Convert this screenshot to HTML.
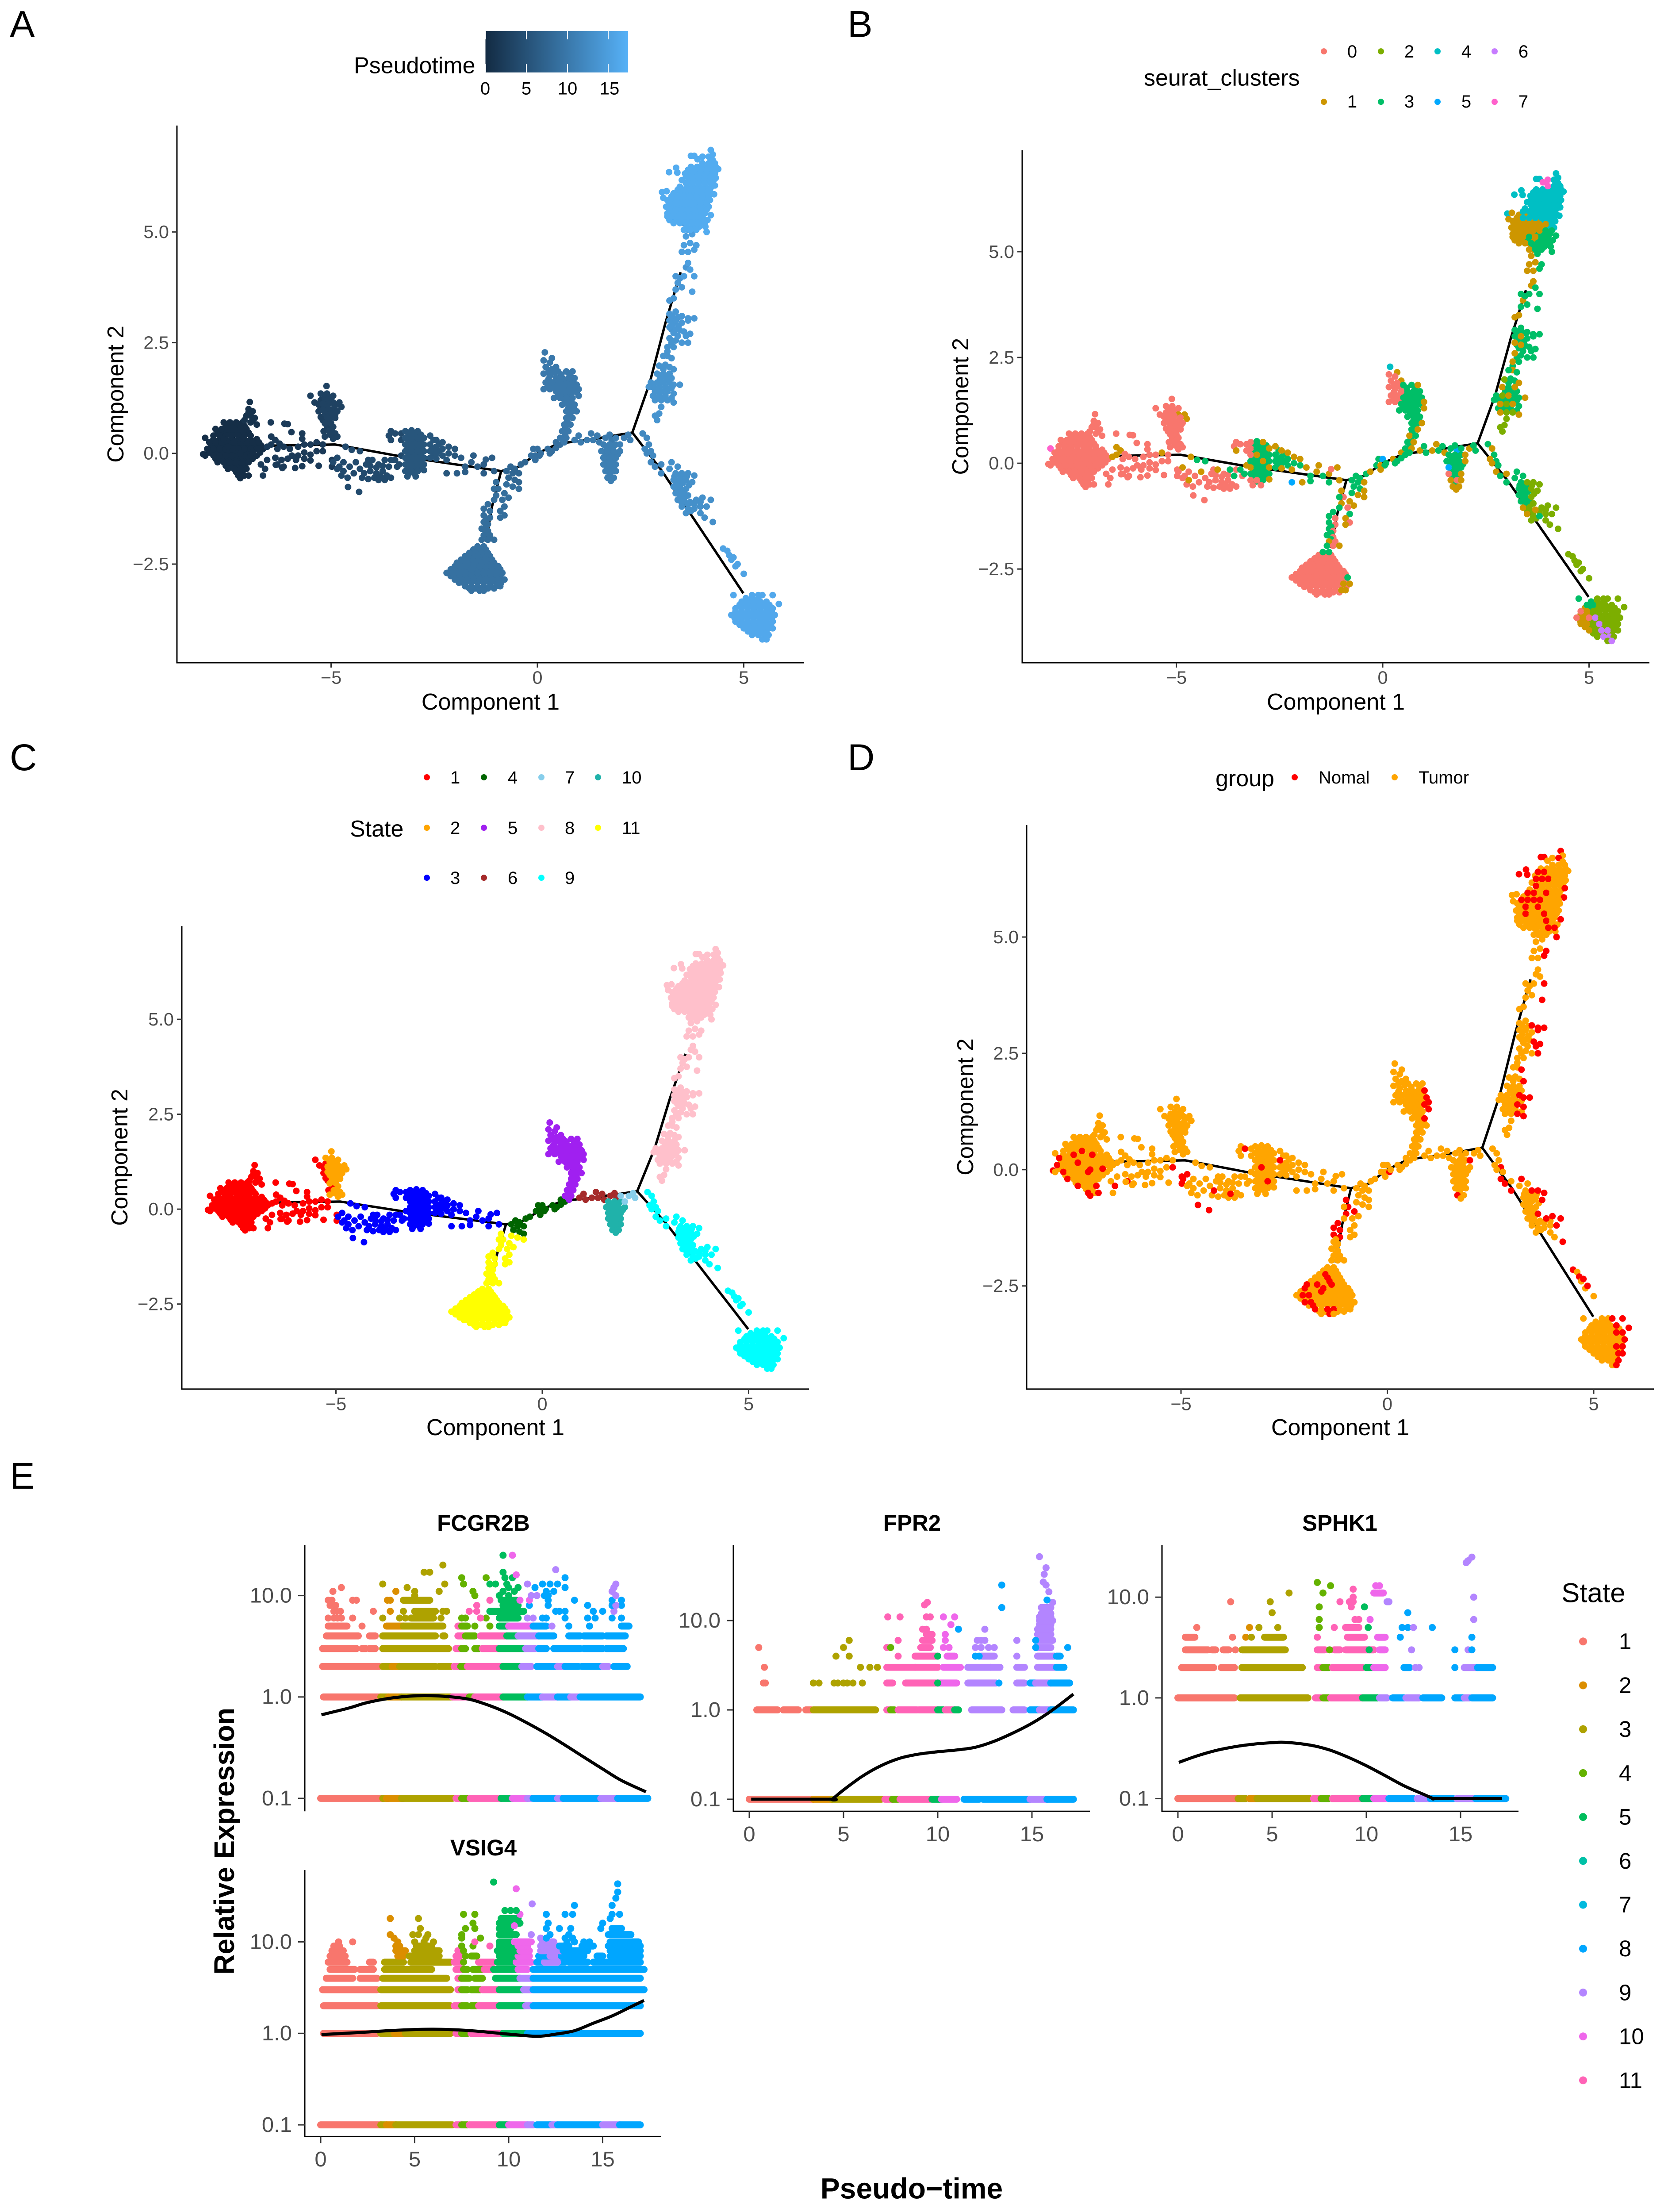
<!DOCTYPE html>
<html lang="en">
<head>
<meta charset="utf-8">
<title>Pseudotime trajectory figure</title>
<style>
html,body{margin:0;padding:0;background:#fff;width:100%;height:100%;overflow:hidden}
svg{display:block;position:absolute;left:0;top:0;width:100vw;height:100vh}
text{font-family:"Liberation Sans",sans-serif;dominant-baseline:central;fill:#000}
.ltr{font-size:85px;dominant-baseline:auto}
.axt{font-size:52px;text-anchor:middle}
.lgt{font-size:52px}
.lgl{font-size:40px}
.bold{font-weight:bold}
</style>
</head>
<body>
<svg id="figure" xmlns="http://www.w3.org/2000/svg" viewBox="0 0 3771 5040" preserveAspectRatio="none">
<defs>
<linearGradient id="pseudotime-gradient"><stop offset="0" stop-color="#132B43"/><stop offset="1" stop-color="#56B1F7"/></linearGradient>
</defs>
<rect width="3771" height="5040" fill="#fff"/>

<text class="ltr" x="22" y="84">A</text>
<text class="ltr" x="1916" y="84">B</text>
<text class="ltr" x="22" y="1755">C</text>
<text class="ltr" x="1916" y="1755">D</text>
<text class="ltr" x="22" y="3392">E</text>

<g id="panel-a">
<text class="axt" x="1109" y="1599">Component 1</text>
<text class="axt" x="261" y="898" transform="rotate(-90 261 898)">Component 2</text>
</g>
<g>
<text class="lgt" x="800" y="149">Pseudotime</text>
<rect x="1097.5" y="70.5" width="322.5" height="94.5" fill="url(#pseudotime-gradient)"/>
<g stroke="#fff" stroke-width="2">
<path d="M1097.5 70.5v19M1097.5 165v-19M1190 70.5v19M1190 165v-19M1283 70.5v19M1283 165v-19M1375 70.5v19M1375 165v-19"/>
</g>
<g class="lgl" text-anchor="middle">
<text x="1097" y="202">0</text>
<text x="1190" y="202">5</text>
<text x="1283" y="202">10</text>
<text x="1378" y="202">15</text>
</g>
</g>

<g id="panel-b">
<text class="axt" x="3020" y="1599">Component 1</text>
<text class="axt" x="2171" y="926" transform="rotate(-90 2171 926)">Component 2</text>
</g>
<g>
<text class="lgt" x="2586" y="177">seurat_clusters</text>
<g class="lgl" text-anchor="middle">
<circle cx="2993" cy="117" r="7" fill="#F8766D"/><text x="3057" y="118">0</text>
<circle cx="2993" cy="232" r="7" fill="#CD9600"/><text x="3057" y="232">1</text>
<circle cx="3122" cy="117" r="7" fill="#7CAE00"/><text x="3186" y="118">2</text>
<circle cx="3122" cy="232" r="7" fill="#00BE67"/><text x="3186" y="232">3</text>
<circle cx="3250" cy="117" r="7" fill="#00BFC4"/><text x="3315" y="118">4</text>
<circle cx="3250" cy="232" r="7" fill="#00A9FF"/><text x="3315" y="232">5</text>
<circle cx="3379" cy="117" r="7" fill="#C77CFF"/><text x="3444" y="118">6</text>
<circle cx="3379" cy="232" r="7" fill="#FF61CC"/><text x="3444" y="232">7</text>
</g>
</g>

<g id="panel-c">
<text class="axt" x="1120" y="3252">Component 1</text>
<text class="axt" x="270" y="2637" transform="rotate(-90 270 2637)">Component 2</text>
</g>
<g>
<text class="lgt" x="791" y="1888">State</text>
<g class="lgl">
<circle cx="965" cy="1771" r="7" fill="#FF0000"/><text x="1018" y="1772">1</text>
<circle cx="965" cy="1886" r="7" fill="#FFA500"/><text x="1018" y="1887">2</text>
<circle cx="965" cy="2000" r="7" fill="#0000FF"/><text x="1018" y="2001">3</text>
<circle cx="1094" cy="1771" r="7" fill="#006400"/><text x="1148" y="1772">4</text>
<circle cx="1094" cy="1886" r="7" fill="#A020F0"/><text x="1148" y="1887">5</text>
<circle cx="1094" cy="2000" r="7" fill="#A52A2A"/><text x="1148" y="2001">6</text>
<circle cx="1224" cy="1771" r="7" fill="#87CEEB"/><text x="1277" y="1772">7</text>
<circle cx="1224" cy="1886" r="7" fill="#FFC0CB"/><text x="1277" y="1887">8</text>
<circle cx="1224" cy="2000" r="7" fill="#00FFFF"/><text x="1277" y="2001">9</text>
<circle cx="1352" cy="1771" r="7" fill="#20B2AA"/><text x="1406" y="1772">10</text>
<circle cx="1352" cy="1886" r="7" fill="#FFFF00"/><text x="1406" y="1887">11</text>
</g>
</g>

<g id="panel-d">
<text class="axt" x="3030" y="3252">Component 1</text>
<text class="axt" x="2182" y="2522" transform="rotate(-90 2182 2522)">Component 2</text>
</g>
<g>
<text class="lgt" x="2748" y="1773">group</text>
<circle cx="2927" cy="1771" r="7" fill="#FF0000"/>
<text x="2981" y="1772" font-size="40">Nomal</text>
<circle cx="3153" cy="1771" r="7" fill="#FFA500"/>
<text x="3207" y="1772" font-size="40">Tumor</text>
</g>

<g id="panel-e">
<text class="bold" font-size="64" text-anchor="middle" x="507" y="4195" transform="rotate(-90 507 4195)">Relative Expression</text>
<text class="bold" font-size="66" text-anchor="middle" x="2061" y="4986">Pseudo−time</text>
<text class="bold" font-size="51" text-anchor="middle" x="1093" y="3470">FCGR2B</text>
<text class="bold" font-size="51" text-anchor="middle" x="2062" y="3470">FPR2</text>
<text class="bold" font-size="51" text-anchor="middle" x="3029" y="3470">SPHK1</text>
<text class="bold" font-size="51" text-anchor="middle" x="1093" y="4210">VSIG4</text>
<text font-size="62" x="3530" y="3630">State</text>
</g>
</svg>

<script>
/* ---------- Trajectory data (Component 1, Component 2, cluster?, group?) ---------- */
const cellsLeftBlob=[[-7.55,.62],[-7.4,.62],[-7.25,.62],[-7.1,.62],[-7.75,.47],[-7.6,.47],[-7.45,.47],[-7.3,.47],[-7.15,.47],[-7,.47],[-7.85,.32],[-7.7,.32],[-7.55,.32],[-7.4,.32],[-7.25,.32],[-7.1,.32],[-6.95,.32],[-6.8,.32],[-7.9,.18],[-7.75,.18],[-7.6,.18],[-7.45,.18],[-7.3,.18],[-7.15,.18],[-7,.18],[-6.85,.18],[-6.7,.18],[-7.95,.02],[-7.8,.02],[-7.65,.02],[-7.5,.02],[-7.35,.02],[-7.2,.02],[-7.05,.02],[-6.9,.02],[-6.72,.02],[-7.8,-.12],[-7.65,-.12],[-7.5,-.12],[-7.35,-.12],[-7.2,-.12],[-7.05,-.12],[-6.9,-.12],[-7.55,-.28],[-7.4,-.28],[-7.25,-.28],[-7.1,-.28],[-7.3,-.42],[-7.15,-.42],
[-8.05,.35,7],[-8.1,-.02,,0],[-7.6,.7],[-7.45,.7],[-7.3,.7],[-7.15,.7],[-7.8,.55],[-7.65,.55],[-7.5,.55],[-7.35,.55],[-7.2,.55],[-7.05,.55],[-7.85,.4],[-7.7,.4],[-7.55,.4],[-7.4,.4,,0],[-7.25,.4],[-7.1,.4],[-6.95,.4],[-7.95,.25,,0],[-7.8,.25],[-7.65,.25],[-7.5,.25],[-7.35,.25],[-7.2,.25],[-7.05,.25],[-6.9,.25],[-6.75,.25],[-8,.1,,0],[-7.85,.1],[-7.7,.1],[-7.55,.1],[-7.4,.1],[-7.25,.1],[-7.1,.1],[-6.95,.1],[-6.8,.1],[-6.65,.1],[-8.05,-.05],[-7.85,-.05,,0],[-7.7,-.05],[-7.55,-.05],[-7.4,-.05],[-7.25,-.05,,0],[-7.1,-.05],[-6.95,-.05],[-6.8,-.05],[-7.75,-.2,,0],[-7.6,-.2],[-7.45,-.2],[-7.3,-.2],[-7.15,-.2],[-7,-.2],[-7.5,-.35,,0],[-7.35,-.35],[-7.2,-.35],[-7.05,-.35,,0],[-7.25,-.5,,0],[-7.1,-.5],[-7,-.5,,0],[-7.2,-.56,,0],[-7.5,.15,,0],[-7.2,0,,0],[-7.6,.32,,0],[-7.15,.32,,0],[-6.9,.02,,0]];
const cellsLeftSpur=[[-6.97,1.16],[-7,1],[-6.9,.95],[-7.05,.85],[-6.85,.8],[-6.95,.7],[-6.8,.65],[-7.1,.75],[-6.95,.85],[-6.9,.75],[-7,.92]];
const cellsLeftScatter=[[-6.46,.7],[-6.13,.67],[-6.05,.66],[-5.96,.48],[-5.7,.45],[-5.7,.33],[-6.45,.38,1],[-6.35,.3,1],[-6.25,.22],[-6.45,.2,1],[-6.55,.15,1],[-6.3,.1],[-6.15,.15],[-6,.1],[-5.95,-.05],[-5.8,.15],[-5.8,-.05],[-5.65,.2],[-5.65,.02],[-5.5,.2],[-5.5,-.03],[-5.35,.25,1],[-5.35,.05],[-5.2,.2],[-5.2,.05,,0],[-5.65,-.12],[-5.85,-.15],[-6.55,-.15],[-6.7,-.25],[-6.6,-.35,,0],[-6.65,-.5],[-6.35,-.1],[-6.3,-.25,,0],[-6.2,-.15],[-6.15,-.3],[-6.05,-.12],[-5.87,-.33],[-5.7,-.29],[-5.3,-.28],[-5.5,-.16],[-6.34,-.26],[-6.18,-.33],[-4.98,-.3,,0],[-4.98,-.15,,0]];
const cellsUpperLeftRed=[[-5.5,1.3],[-5.4,1.15],[-5.3,.95],[-5.3,1.1],[-5.25,1.05],[-5.25,.82],[-5.2,.75],[-5.1,.6],[-5.18,.5],[-5.25,1.2]];
const cellsUpperLeftOrange=[[-5.11,1.52],[-5.25,1.35],[-5.1,1.35],[-4.95,1.3],[-5.15,1.25],[-5,1.25],[-5.1,1.2],[-4.95,1.15,1],[-4.8,1.15,1],[-5.2,1.12],[-5.05,1.12],[-4.9,1.08],[-5.1,1.05],[-4.95,1],[-4.75,1.05,1],[-5.2,.98],[-5.05,.98],[-5.15,.9],[-5,.9],[-4.85,.95],[-4.9,.88],[-5.1,.82],[-4.97,.82],[-5.05,.75],[-4.9,.8],[-5.15,.68],[-5,.68],[-4.95,.6],[-5.05,.5],[-4.98,.52],[-4.9,.45],[-5.02,.42],[-5.15,.38],[-4.95,.33],[-4.85,.38]];
const cellsMidLeft=[[-4.85,-.35],[-4.75,-.5],[-4.6,-.55],[-4.25,-.55],[-4.1,-.58],[-4.1,-.15],[-3.85,-.6],[-3.7,-.6],[-3.55,-.55],[-3.55,-.15],[-3.4,-.3],[-4.05,-.28],[-3.9,-.32],[-3.75,-.28],[-3.3,.45],[-3.3,.3],[-4.85,-.1,1,0],[-4.95,-.2,,0],[-4.8,-.3],[-4.7,-.2],[-4.65,.15,1],[-4.5,.08,3],[-4.3,.05,3],[-4.55,-.3],[-4.4,-.2,1],[-4.3,-.35],[-4.15,-.25],[-4,-.15,1],[-3.85,-.25],[-3.7,-.15,3],[-4.2,-.45,,0],[-4.05,-.4],[-3.9,-.45],[-3.75,-.4],[-3.6,-.3,3],[-3.45,-.15,3],[-3.35,-.25,3],[-3.3,-.05,1],[-3.55,.5],[-3.6,.4],[-3.45,.45,,0],[-3.55,.3,1],[-4.59,-.76,,0],[-4.32,-.87,,0],[-4.7,-.4,1],[-4.45,-.45],[-3.95,-.55],[-3.8,-.52,,0],[-3.65,-.5]];
const cellsMidColumn=[[-3.12,.42],[-2.97,.42],[-2.82,.42],[-3.12,.27],[-2.97,.27],[-2.82,.27],[-3.12,.12],[-2.97,.12],[-2.82,.12],[-3.12,-.02],[-2.97,-.02],[-2.82,-.02],[-3.12,-.17],[-2.97,-.17],[-2.82,-.17],[-3.12,-.32],[-2.97,-.32],[-2.82,-.32],[-3.12,-.46],[-2.97,-.46],[-2.52,.3],[-2.52,.1],[-2.52,-.05],[-2.38,.22],[-2.38,.05],
[-3.2,.5,0],[-3.05,.52,3],[-2.9,.5,1],[-3.2,.35,0],[-3.05,.35],[-2.9,.35],[-2.75,.35,1],[-3.2,.2,0],[-3.05,.2,1],[-2.9,.2],[-2.75,.2],[-3.2,.05],[-3.05,.05],[-2.9,.05,1],[-2.75,.05],[-3.2,-.1,1],[-3.05,-.1],[-2.9,-.1],[-2.75,-.1,1],[-3.2,-.25],[-3.05,-.25],[-2.9,-.25],[-2.75,-.25],[-3.2,-.4,0],[-3.05,-.4,0],[-2.9,-.4],[-2.75,-.38,1],[-3.15,-.52,0],[-2.95,-.52,0],[-2.6,.4,1],[-2.6,.2],[-2.6,.05],[-2.6,-.1],[-2.45,.3,1],[-2.45,.15],[-2.45,0],[-2.45,-.12,1],[-2.3,.25,1],[-2.3,.1],[-2.3,-.05],[-2.15,.15,1],[-2.15,0],[-2,.1,1],[-2,-.05],[-2.2,-.15,1],[-2.2,-.45,5],[-3.05,.05,,0],[-2.9,-.25,,0],[-2.6,.2,,0]];
const cellsMidRight=[[-1.85,-.1,1],[-1.75,-.3],[-1.6,-.2,1],[-1.55,-.05,1],[-1.45,-.3],[-1.3,-.25,1],[-1.25,-.14,0],[-1.1,-.1,1],[-1.3,-.45],[-1.05,-.4,1],[-1.95,-.45,1],[-1.75,-.42]];
const cellsRightLimbTop=[[-.65,-.3],[-.55,-.35],[-.75,-.4],[-.6,-.45],[-.45,-.45,1],[-.7,-.55],[-.55,-.6],[-.45,-.65,1],[-.4,-.25],[-.3,-.2,1]];
const cellsDownBranch=[[-1,-.65,1,0],[-.95,-.8,0,0],[-1.05,-.8],[-1,-.95,1,0],[-.6,-.75,1],[-.45,-.8,1],[-.75,-.7],[-.8,-.9,1,0],[-.7,-1,1],[-.85,-1.05,0],[-.8,-1.2],[-.9,-1.3,1],[-.8,-1.4,0],[-.9,-1.45,1],[-1.2,-1.15,,0],[-1.3,-1.25,,0],[-1.15,-1.3,0,0],[-1.3,-1.4,,0],[-1.15,-1.45,0,0],[-1.25,-1.5],[-1.3,-1.55],[-1.2,-1.6,0],[-1.25,-1.65],[-1.35,-1.7],[-1.2,-1.75,0],[-1.25,-1.8],[-1.3,-1.85,1],[-1.15,-1.85,0],[-1.35,-1.95],[-1.2,-1.95,0],[-1.05,-1.95,1],[-1.05,-1.05]];
const cellsBottomBlob=[[-1.55,-2.17],[-1.4,-2.17],[-1.25,-2.17],[-1.75,-2.32],[-1.6,-2.32],[-1.45,-2.32],[-1.3,-2.32],[-1.15,-2.32],[-1.95,-2.47],[-1.8,-2.47],[-1.65,-2.47],[-1.5,-2.47],[-1.35,-2.47],[-1.2,-2.47],[-1.05,-2.47],[-2.1,-2.62],[-1.95,-2.62],[-1.8,-2.62],[-1.65,-2.62],[-1.5,-2.62],[-1.35,-2.62],[-1.2,-2.62],[-1.05,-2.62],[-.9,-2.62],[-2.1,-2.77],[-1.95,-2.77],[-1.8,-2.77],[-1.65,-2.77],[-1.5,-2.77],[-1.35,-2.77],[-1.2,-2.77],[-1.05,-2.77],[-.9,-2.77],[-1.9,-2.92],[-1.75,-2.92],[-1.6,-2.92],[-1.45,-2.92],[-1.3,-2.92],[-1.15,-2.92],[-1,-2.92],[-.88,-2.92],[-1.65,-3.05],[-1.5,-3.05],[-1.35,-3.05],[-1.2,-3.05],[-1.05,-3.05],
[-1.45,-2.1,3],[-1.3,-2.1,3],[-1.65,-2.25],[-1.5,-2.25,,0],[-1.35,-2.25],[-1.2,-2.25],[-1.85,-2.4],[-1.7,-2.4],[-1.55,-2.4],[-1.4,-2.4,,0],[-1.25,-2.4],[-1.1,-2.4],[-2,-2.55,,0],[-1.85,-2.55],[-1.7,-2.55],[-1.55,-2.55,,0],[-1.4,-2.55],[-1.25,-2.55],[-1.1,-2.55],[-.95,-2.55],[-2.2,-2.7],[-2.05,-2.7,,0],[-1.9,-2.7,,0],[-1.75,-2.7],[-1.6,-2.7],[-1.45,-2.7],[-1.3,-2.7],[-1.15,-2.7],[-1,-2.7],[-.85,-2.7,3],[-2,-2.85,,0],[-1.85,-2.85,,0],[-1.7,-2.85],[-1.55,-2.85],[-1.4,-2.85],[-1.25,-2.85],[-1.1,-2.85],[-.95,-2.85,1],[-.8,-2.85,1],[-1.75,-3,,0],[-1.6,-3],[-1.45,-3,,0],[-1.3,-3,,0],[-1.15,-3],[-1,-3,1],[-.9,-3,1],[-1.6,-3.1],[-1.4,-3.1,,0],[-1.3,-3.1],[-1.7,-2.47,,0],[-1.45,-2.32,,0],[-1.6,-2.62,,0],[-1.95,-2.47,,0],[-1.35,-2.47,,0],[-1.8,-2.92,,0]];
const cellsCentre=[[-.1,.1],[0,.1,5],[-.15,-.05],[-.05,-.05,1],[.05,-.05,,0],[-.05,-.15,1],[.08,0],[.25,.1,1],[.3,0],[.45,.25,1],[.55,.2],[.45,.12],[.35,.05]];
const cellsUpBranch=[[.27,1.85,0],[.42,1.82,0],[.58,1.78],[.78,1.78],[.27,1.68,0],[.42,1.62,0],[.57,1.62],[.72,1.62],[.87,1.62],[.27,1.52,0],[.42,1.48,0],[.57,1.48],[.72,1.48],[.87,1.48],[.5,1.33],[.65,1.33],[.8,1.33],[.95,1.38],[.67,1.18],[.82,1.18],[.75,1.03],[.88,1.03],[.78,.88],[.72,.72],[.68,.58],[.67,.43],[.62,.3],
[.18,2.28,4],[.35,2.15,1],[.15,2.1,0],[.3,2.05,0],[.45,1.95,1],[.2,1.95,0],[.35,1.9,0],[.5,1.85],[.7,1.85],[.85,1.85,1],[.15,1.8,0],[.3,1.75,0],[.45,1.7,0],[.6,1.7],[.75,1.7],[.9,1.7,,0],[.2,1.6,0],[.35,1.6,0],[.5,1.55],[.65,1.55],[.8,1.55],[.95,1.55,,0],[.15,1.45,0],[.3,1.45,0],[.45,1.4],[.6,1.4],[.75,1.4],[.9,1.4,,0],[1,1.45,1,0],[.4,1.25],[.55,1.25],[.7,1.25],[.85,1.25],[1,1.3,1,0],[.6,1.1],[.75,1.1],[.9,1.1,,0],[.7,.95],[.85,.95],[.95,.95,1],[.7,.8],[.85,.8,1],[.65,.65,1],[.8,.65],[.6,.5],[.75,.5,1],[.55,.35],[.7,.35,1],[.65,.25]];
const cellsBridge=[[.9,.3,1],[1.05,.25],[1,.4],[1.2,.3,1],[1.3,.45,1],[1.35,.3],[1.5,.25,1],[1.45,.4],[1.65,.35],[1.8,.3,5],[1.75,.42]];
const cellsDropBlob=[[1.68,.12],[1.82,.12],[1.65,-.02],[1.8,-.02],[1.95,-.02],[1.68,-.17],[1.83,-.17],[1.7,-.32],[1.85,-.32],[1.75,-.47],[1.6,.2],[1.75,.2],[1.9,.2],[1.55,.05],[1.7,.05],[1.85,.05],[2,.05,1],[1.6,-.1,5],[1.75,-.1],[1.9,-.1],[1.6,-.25,0],[1.75,-.25],[1.9,-.25,1],[1.65,-.4,1],[1.8,-.4,0],[1.9,-.4,1],[1.7,-.55,1,0],[1.85,-.55,1],[1.78,-.62,1]];
const cellsLink=[[1.9,.35],[2.1,.35,1],[2.25,.3],[2.2,.42],[2,.2,1,0]];
const cellsLowerStem=[[2.55,.45],[2.65,.35,1],[2.7,.2],[2.6,.1,1],[2.75,.05,,0],[2.8,-.05],[2.75,-.2,1,0],[2.85,-.3,,0],[3,-.25,1],[3,-.45,,0],[2.65,0,1]];
const cellsLowerCore=[[3.32,-.52,3],[3.47,-.52,3],[3.62,-.52],[3.37,-.67,3],[3.52,-.67,3],[3.67,-.72],[3.4,-.82,3],[3.55,-.85,3],[3.45,-.97,3],[3.6,-.97],[3.5,-1.12],[3.65,-1.15],[3.8,-1.15],[3.95,-1.1],[3.72,-1.3],[3.25,-.2,3,0],[3.4,-.3,3],[3.2,-.35,3],[3.35,-.45,3],[3.5,-.45,,0],[3.65,-.45,,0],[3.8,-.5,,0],[3.3,-.6,3],[3.45,-.6,3],[3.6,-.6],[3.75,-.65,,0],[3.3,-.75,3],[3.45,-.75,3],[3.6,-.8],[3.35,-.9,3],[3.5,-.9,3],[3.65,-.95,,0],[3.4,-1.05,1],[3.55,-1.05],[3.7,-1.1,1],[3.85,-1.05,,0],[4,-1,,0],[4.2,-1.05,,0],[3.5,-1.2,1],[3.65,-1.25],[3.8,-1.25,3],[3.95,-1.2],[4.1,-1.2,,0],[3.6,-1.35],[3.95,-1.35],[4.05,-1.45],[4.25,-1.55,,0]];
const cellsLowerTail=[[4.5,-2.15,,0],[4.6,-2.2],[4.65,-2.3,,0],[4.7,-2.4],[4.75,-2.35,,0],[4.8,-2.55],[4.85,-2.5,,0],[5,-2.72]];
const cellsCornerBlob=[[5.05,-3.27,3],[5.2,-3.27],[5.35,-3.27],[4.9,-3.42,1],[5.05,-3.42,3],[5.2,-3.42],[5.35,-3.42],[5.5,-3.42],[5.62,-3.42],[4.8,-3.57,1],[4.95,-3.57,1],[5.1,-3.57],[5.25,-3.57],[5.4,-3.57],[5.55,-3.57],[5.68,-3.57],[4.78,-3.72,1],[4.93,-3.72,1],[5.08,-3.72],[5.23,-3.72],[5.38,-3.72],[5.53,-3.72],[5.68,-3.72],[4.9,-3.87,1],[5.05,-3.87],[5.2,-3.87],[5.35,-3.87],[5.5,-3.87],[5.65,-3.87],[5.1,-4.02],[5.25,-4.02],[5.4,-4.02],[5.55,-4.02],
[4.75,-3.2,3],[5.2,-3.2],[5.35,-3.2],[5.45,-3.2,,0],[5.7,-3.2,,0],[4.95,-3.35,3],[5.1,-3.35,3],[5.25,-3.35],[5.4,-3.35],[5.55,-3.35,,0],[5.85,-3.4,,0],[4.8,-3.5,0],[4.95,-3.5,1],[5.1,-3.5],[5.25,-3.5],[5.4,-3.5],[5.55,-3.5,,0],[5.7,-3.5,,0],[4.7,-3.65,0],[4.85,-3.65,1],[5,-3.65,0],[5.15,-3.65,6],[5.3,-3.65],[5.45,-3.65],[5.6,-3.65],[5.75,-3.65,,0],[4.8,-3.8,1],[4.95,-3.8,1],[5.1,-3.8],[5.25,-3.8,6],[5.4,-3.8],[5.55,-3.8,,0],[5.7,-3.8,,0],[5,-3.95,1],[5.15,-3.95],[5.3,-3.95,6],[5.45,-3.95,6],[5.6,-3.95,,0],[5.7,-3.95,,0],[5.2,-4.1],[5.35,-4.1,6],[5.5,-4.1,6],[5.6,-4.1,,0],[5.45,-4.2],[5.55,-4.2,6,0]];
const cellsUpperLow=[[2.8,1.3],[2.95,1.3],[3.1,1.3],[3.25,1.25],[2.8,1.5],[2.95,1.5],[3.1,1.5],[3.25,1.48],[2.97,1.7],[3.12,1.7],[3.25,1.7],[3.05,1.9],[3.2,1.95],[3.15,2.3],[3.25,2.5],[2.9,.75,2],[2.95,.9,2],[2.85,.85,2],[3,1.05,2],[2.85,1.2,1],[3,1.2,2],[3.15,1.2,2,0],[3.3,1.15,1,0],[2.7,1.5,3],[2.85,1.4,1],[3,1.4,2],[3.15,1.4,1,0],[3.3,1.35,,0],[3.45,1.55,1,0],[2.75,1.6,3],[2.9,1.6,2],[3.05,1.6,1],[3.2,1.6,,0],[3.3,1.55,,0],[2.9,1.8,1],[3.05,1.8,3],[3.2,1.8,1],[3.3,1.9,1,0],[2.95,1.98,2],[3.1,2],[3.15,2.2,1],[3.25,2.15,,0],[3.05,2.2],[3.15,2.4,1],[3.3,2.4],[3.2,2.6,1],[3.35,2.55],[3.25,2.8]];
const cellsUpperMid=[[3.27,3.1],[3.42,3.08],[3.27,2.92],[3.42,2.88],[3.3,2.72],[3.45,2.78],[3.2,3.15],[3.35,3.2],[3.5,3.1,,0],[3.65,3.05,,0],[3.8,3.05,,0],[3.2,3],[3.35,3,1],[3.5,2.95],[3.65,3,,0],[3.2,2.85,1],[3.35,2.8,1],[3.55,2.75,,0],[3.4,2.65],[3.6,2.65,,0],[3.7,2.7,,0],[3.65,2.5,,0],[3.5,2.5],[3.3,3.5,1],[3.2,3.45,1],[3.35,3.7,3],[3.4,3.85,1],[3.5,3.75,3],[3.35,4],[3.45,3.95,3],[3.6,4.2,1]];
const cellsUpperHigh=[[3.55,4,3],[3.65,4.3],[3.7,4.15,3],[3.75,3.65,3,0],[3.8,4,3,0],[3.5,4.55],[3.65,4.55],[3.8,4.6,3,0],[3.55,4.7],[3.7,4.75],[3.85,4.7,3,0],[3.6,4.9],[3.75,4.95,3],[3.65,5.05],[3.8,5.1,3],[3.55,5.2]];
const cellsTopBlob=[[3.72,6.47,4],[3.87,6.47,4],[4.02,6.47,4],[4.17,6.47,4],[4.32,6.47,4],[3.58,6.32,4],[3.72,6.32,4],[3.87,6.32,4],[4.02,6.32,4],[4.17,6.32,4],[4.3,6.32,4],[3.5,6.17,4],[3.67,6.17,4],[3.82,6.17,4],[3.97,6.17,4],[4.12,6.17,4],[4.27,6.17,4],[3.45,6.02,4],[3.62,6.02,4],[3.77,6.02,4],[3.92,6.02,4],[4.07,6.02,4],[4.22,6.02,4],[3.3,5.87,1],[3.47,5.87,1],[3.62,5.87,4],[3.77,5.87,4],[3.92,5.87,4],[4.07,5.87,4],[4.22,5.87,4],[3.15,5.72,1],[3.3,5.72,1],[3.45,5.72,1],[3.6,5.72,1],[3.75,5.72,1],[3.9,5.72,4],[4.05,5.72,4],[4.18,5.72,4],[3.12,5.57,1],[3.27,5.57,1],[3.42,5.57,1],[3.57,5.57,1],[3.72,5.57,1],[3.87,5.57,1],[4.02,5.57,4],[4.15,5.57,4],[3.15,5.42,1],[3.3,5.42,1],[3.45,5.42,1],[3.6,5.42,1],[3.75,5.42,3],[3.9,5.42,3],[4.05,5.42,3],[3.2,5.27,1],[3.37,5.27,1],[3.52,5.27,3],[3.67,5.27,1],[3.82,5.27,3],[3.97,5.27,3],[4.12,5.27,3],[3.62,5.12,3],[3.77,5.12,3],[3.92,5.12,3],[4.07,5.12,3],
[4.2,6.85,,0],[4.25,6.75],[3.72,6.72,,0],[3.8,6.72,,0],[3.88,6.64,7],[4,6.7,7],[4.15,6.7,,0],[4.25,6.62],[4,6.55,7],[4.15,6.55],[4.3,6.55],[3.36,6.45,,0],[3.39,6.34,,0],[3.19,6.35,,0],[3.65,6.4,,0],[3.8,6.4,,0],[3.95,6.4],[4.1,6.4],[4.25,6.4],[4.38,6.42],[3.6,6.25,,0],[3.75,6.25,,0],[3.9,6.25,,0],[4.05,6.25],[4.2,6.25],[4.32,6.22],[3.6,6.1,,0],[3.75,6.1],[3.9,6.1],[4.05,6.1],[4.2,6.1],[4.3,6.05,,0],[3.4,5.95,,0],[3.55,5.95,,0],[3.7,5.95],[3.85,5.95,,0],[4,5.95],[4.15,5.95],[4.28,5.85,,0],[3.02,5.9],[3.13,5.92,1],[3.05,5.77,1],[3.25,5.8,1,0],[3.4,5.8,,0],[3.55,5.8,,0],[3.7,5.8,,0],[3.85,5.8],[4,5.8],[4.15,5.8],[3.2,5.65,1],[3.35,5.65,1,0],[3.5,5.65,1],[3.65,5.65,1,0],[3.8,5.65,1],[3.95,5.65,1],[4.1,5.65],[3.2,5.5,1],[3.35,5.5,1,0],[3.5,5.5,1],[3.65,5.5,1],[3.8,5.5,1,0],[3.95,5.5,3],[4.1,5.5,3],[3.15,5.35,1],[3.25,5.35,1],[3.4,5.35,1],[3.55,5.35,3],[3.7,5.35,1],[3.85,5.35,3,0],[4,5.35,3],[4.2,5.38,3,0],[3.3,5.2,1],[3.45,5.2,1],[3.6,5.2,3],[3.75,5.2,3],[3.9,5.2,3,0],[4.05,5.2,3,0],[3.55,5.05,1],[3.7,5.05,3],[3.85,5.05,3],[4.1,5,3,0]];

const regionCells=[cellsLeftBlob,cellsLeftSpur,cellsLeftScatter,cellsUpperLeftRed,cellsUpperLeftOrange,cellsMidLeft,cellsMidColumn,cellsMidRight,cellsRightLimbTop,cellsDownBranch,cellsBottomBlob,cellsCentre,cellsUpBranch,cellsBridge,cellsDropBlob,cellsLink,cellsLowerStem,cellsLowerCore,cellsLowerTail,cellsCornerBlob,cellsUpperLow,cellsUpperMid,cellsUpperHigh,cellsTopBlob];
const regionState=[1,1,1,1,2,3,3,3,4,11,11,4,5,6,10,7,9,9,9,9,8,8,8,8];
const regionCluster=[0,0,0,0,0,0,3,3,3,3,0,3,3,3,3,3,3,2,2,2,3,3,1,4];
const regionTime=[0.4,1,2,2.6,3,4,5.5,6.5,7.6,8.6,9,8.8,10,10.3,10.8,11,12,13,15.5,16.2,13.5,14,15,16.6];
const stateColors=["#FF0000","#FFA500","#0000FF","#006400","#A020F0","#A52A2A","#87CEEB","#FFC0CB","#00FFFF","#20B2AA","#FFFF00"];
const clusterColors=["#F8766D","#CD9600","#7CAE00","#00BE67","#00BFC4","#00A9FF","#C77CFF","#FF61CC"];
const groupColors=["#FF0000","#FFA500"];
const backboneStem=[[-6.7,.17],[-4.9,.2],[-3.36,-.06],[-.88,-.4],[-1.1,-1.2],[-1.25,-2]];
const backboneBridge=[[-.88,-.4],[-.45,-.3],[0,0],[.5,.22],[1.2,.3],[2.3,.47]];
const backboneUp=[[2.3,.47],[2.72,1.59],[3.1,2.94],[3.47,4.09]];
const backboneDown=[[2.3,.47],[3.02,-.4],[4.99,-3.16]];
const xTicks=[-5,0,5];
const yTicks=[-2.5,0,2.5,5];
const timeMax=17.3;

/* ---------- Expression data: runs [level,state,start,end] and dots [level,state,[times]] ---------- */
const fcgr2bRuns=[[.1,1,0,3.3],[.1,3,3.3,3.6],[.1,2,3.5,4.4],[.1,3,4.3,7],[.1,11,7.2,7.5],[.1,4,7.5,7.85],[.1,11,7.95,9.6],[.1,5,9.6,10.2],[.1,10,10.2,11],[.1,9,11,11.2],[.1,8,11.3,12.6],[.1,9,12.6,12.9],[.1,8,12.9,14.9],[.1,9,14.9,15.8],[.1,8,15.8,17.4],
[1,1,.15,3.2],[1,3,3.2,3.6],[1,2,3.6,4.3],[1,3,4.3,7],[1,11,7,7.9],[1,4,7.9,8.2],[1,11,8.2,9.7],[1,5,9.7,11],[1,8,11,11.8],[1,9,11.8,12.6],[1,8,12.6,13.3],[1,9,13.3,13.7],[1,8,13.8,17],
[2,1,.1,3.1],[2,3,3.3,3.8],[2,2,3.8,4.2],[2,3,4.2,6.1],[2,3,6.3,6.9],[2,11,7.1,7.4],[2,4,7.45,7.7],[2,11,7.8,9.7],[2,5,9.7,10.6],[2,9,10.7,11.2],[2,8,11.5,12.6],[2,9,12.6,13],[2,8,13,13.7],[2,8,13.9,14.9],[2,9,15,15.3],[2,8,15.6,16.3],
[3,1,.1,1.9],[3,1,2.2,2.4],[3,1,2.6,2.9],[3,3,3.3,6.8],[3,11,7.2,7.4],[3,4,7.5,7.7],[3,4,8.2,8.4],[3,11,8.6,9.5],[3,5,9.5,10.9],[3,9,10.9,11.4],[3,8,11.6,12],[3,8,12.4,13.8],[3,8,14,15],[3,8,15.2,16.1],
[4,1,.3,2],[4,1,2.6,2.9],[4,3,3.3,6.1],[4,3,6.5,6.6],[4,11,7.3,7.6],[4,4,7.7,8.2],[4,11,8.5,9.9],[4,5,9.9,10.5],[4,9,10.5,11.6],[4,8,11.6,12.4],[4,8,13.2,13.8],[4,8,14,15],[4,8,15.2,16.2],
[5,1,.4,1.4],[5,2,3.5,4.4],[5,3,4.4,6.5],[5,11,7.3,7.5],[5,4,7.5,7.8],[5,5,9.5,10],[5,10,10,11.3],[5,8,11.3,12],[5,8,16,16.4],[6,5,9.5,10.5],[6,3,4.8,6],[7,5,9,10.8],[7,3,5,6.1],[8,5,9.7,10.5],[9,3,4.4,5.8],[9,5,9.6,10.4]];
const fcgr2bDots=[[5,1,[2.2]],[5,4,[8.2,9]],[5,9,[12.3]],[5,8,[13.2,14.3]],
[6,1,[.4,.7,.9,1.1,1.7]],[6,3,[3.3,4.2,4.5,6.4]],[6,4,[7.5,7.7,8.8]],[6,11,[8.5]],[6,9,[11,11.3]],[6,8,[11.8,12,13,14.2,14.6,15.5,16]],
[7,1,[.7,.85,1.05,2.8]],[7,2,[3.7]],[7,3,[4.4,6.5,6.7]],[7,11,[7.9,8.3]],[7,8,[12.5,12.7,13,14.5,15]],[7,9,[15.6]],
[8,1,[.5,.8]],[8,11,[8.3]],[8,8,[11.1,12.1,14.2,15.5,16]],[8,9,[15.7]],
[9,1,[.4,.6,1.7,1.9]],[9,2,[3.55,3.7]],[9,11,[9]],[9,10,[10.6,11.1]],[9,8,[12.1,13.5,15.5,16]],
[10,3,[5]],[10,4,[8.2]],[10,5,[9.5,10]],[10,9,[11.2,11.5,15.7]],[10,8,[11.9,12.1]],
[11,1,[.65]],[11,2,[4]],[11,3,[5,6.3]],[11,4,[8.1]],[11,5,[9.7,10.3]],[11,9,[15.5]],[11,8,[12,12.4]],
[12,1,[1.1]],[12,3,[4.6]],[12,5,[10,10.5]],[12,9,[15.6]],[12,8,[11.4,13]],
[13,4,[7.6]],[13,3,[3.3,6.6]],[13,5,[9,9.3,9.9]],[13,8,[11.8,12.2,12.6]],[13,9,[11,15.7]],
[15,4,[7.5,8.8]],[15,5,[9.8,10.2]],[15,8,[13]],[16,10,[10.4]],[17,3,[5.5,5.8]],[17,5,[9.7]],[18,9,[12.5]],[20,3,[6.5]],[25,5,[9.7]],[25,10,[10.2]]];
const fcgr2bCurve=[[.04,.667],[1.5,.778],[2.5,.882],[4,.989],[5.5,1.032],[7,1],[8,.94],[9,.82],[10,.687],[11,.552],[12,.435],[13,.335],[14,.255],[15,.195],[16,.15],[17.3,.116]];

const fpr2Runs=[[.1,1,0,3.4],[.1,2,3.4,4.4],[.1,3,4.4,7],[.1,11,7.2,7.6],[.1,4,7.6,7.9],[.1,11,8,9.6],[.1,5,9.7,10.2],[.1,10,10.2,11],[.1,8,11.4,12.2],[.1,8,12.4,14.9],[.1,9,14.9,15.8],[.1,8,15.8,17.2],
[1,1,.4,1.5],[1,1,1.8,2.6],[1,1,3,3.3],[1,3,3.4,6.7],[1,11,7.3,7.5],[1,4,7.5,7.7],[1,11,7.9,8.9],[1,11,9,10],[1,5,10,10.3],[1,11,10.4,10.9],[1,5,10.9,11.1],[1,9,11.8,13.4],[1,9,14,14.6],[1,8,14.9,15.4],[1,9,15.4,16],[1,8,16,17.2],
[2,11,7.3,7.6],[2,11,8.3,10],[2,10,10,11],[2,9,11.6,13.1],[2,9,14.2,14.6],[2,8,14.9,15.2],[2,9,15.2,16],[2,8,16,17],
[3,11,7.3,8.8],[3,11,8.8,10],[3,10,10.3,11.2],[3,9,11.6,12.8],[3,9,12.8,13.3],[3,9,14.2,14.6],[3,9,15.3,16.2],[3,8,16.3,16.7],
[4,11,8.8,10],[4,10,10.5,10.9],[4,9,12.3,13],[4,9,15.3,16.2],[4,8,16.3,16.5],[5,11,9.1,9.6],[5,9,15.2,16],[6,11,9.2,9.7],[6,9,15.3,16.1],[7,11,9.4,9.7],[7,9,15.3,16],[8,9,15.3,16],[9,9,15.4,16],[10,9,15.4,16.1],[11,9,15.4,16],[12,9,15.5,16],[14,9,15.5,16]];
const fpr2Dots=[[2,1,[.75,.85]],[2,3,[3.4,3.7,4.5,4.7,5,5.2,5.5,6]],[2,5,[10]],[2,8,[13.25]],[3,1,[.8]],[3,3,[5.9,6.4,6.8]],[4,3,[4.6,5.3]],[4,11,[7.9]],[4,5,[10]],[4,8,[12,12.2]],[4,9,[14.2]],[5,1,[.5]],[5,3,[5]],[5,11,[7.3]],[5,4,[7.5]],[5,10,[10.3,10.6]],[5,9,[12,12.3,12.7,13]],[5,8,[15.2,16.9]],[6,3,[5.3]],[6,11,[7.9]],[6,10,[10.4]],[6,9,[12.1,12.3,12.5,14.2]],[6,8,[15.2]],[7,10,[10.4]],[8,11,[9.2,9.4]],[8,9,[12.5]],[8,8,[11.1]],[9,10,[10.7]],[11,11,[7.35,8,9.4,9.6]],[11,10,[10.3,10.9]],[15,11,[9.3]],[16,11,[9.45]],[14,8,[13.4]],[25,8,[13.4]],[16,9,[16.1]],[17,8,[15.8]],[21,9,[15.9]],[25,9,[15.75]],[27,9,[15.6]],[33,9,[15.65]],[39,9,[15.75]],[52,9,[15.4]]];
const fpr2Curve=[[.1,.1],[4.3,.1],[4.4,.1],[5,.127],[6,.181],[7,.238],[8,.288],[9,.32],[10,.34],[11,.356],[12,.382],[13,.446],[14,.552],[15,.709],[16,.966],[17.2,1.5]];

const sphk1Runs=[[.1,1,0,3.2],[.1,3,3.2,3.6],[.1,2,3.8,4.2],[.1,3,4.2,7],[.1,11,7.2,7.5],[.1,4,7.6,8],[.1,11,8.2,9.7],[.1,5,9.8,10.4],[.1,10,10.4,11],[.1,8,11.2,12.5],[.1,9,12.7,13.4],[.1,8,13.4,14.6],[.1,9,14.8,15.8],[.1,8,15.8,17.4],
[1,1,0,3],[1,3,3.3,6.9],[1,11,7.3,7.6],[1,4,7.7,8],[1,11,8.1,9.8],[1,5,9.8,10.6],[1,9,10.7,11.1],[1,8,11.4,12],[1,9,12.1,12.8],[1,8,13,14],[1,8,14.7,15.2],[1,9,15.2,15.5],[1,8,15.6,16.7],
[2,1,.2,1.9],[2,1,2.3,3],[2,3,3.4,6.3],[2,3,6.4,6.6],[2,11,7.4,7.6],[2,4,7.7,8],[2,11,8.2,9.8],[2,5,10,10.3],[2,10,10.4,11],[2,8,12,12.3],[2,9,15.2,15.9],[2,8,15.9,16.7],
[3,1,.4,1.6],[3,1,1.8,2],[3,1,2.4,2.7],[3,3,3.4,5.7],[3,11,7.4,7.8],[3,11,8.3,8.6],[3,11,8.9,10.4],[3,10,10.7,11],
[4,1,.4,.9],[4,3,4.6,5.6],[4,11,9,9.9],[4,10,10.6,11],[5,11,8.9,9.6],[11,10,10.4,10.9]];
const sphk1Dots=[[2,9,[12.6,12.8]],[2,8,[14.7]],[3,1,[3.05]],[3,4,[8.05]],[3,5,[10.15]],[3,9,[12.4,15.4]],[3,8,[14.7,15.6]],[4,1,[2.9]],[4,2,[3.6]],[4,3,[3.9]],[4,11,[7.4]],[4,8,[11.8,15.6]],[5,1,[1]],[5,2,[3.8]],[5,3,[4.3,5.3]],[5,4,[7.5]],[5,11,[8.3]],[5,5,[10.1]],[5,8,[11.9,12.2,13.5]],[5,9,[12.5]],[6,4,[7.5]],[6,11,[9.4,9.6]],[6,10,[10.2]],[6,9,[15.7]],[7,3,[5]],[7,8,[12.2]],[8,4,[7.5]],[8,5,[9.9]],[8,11,[9.2]],[9,1,[2.8]],[9,3,[4.9]],[9,11,[8.6,9.1,9.3]],[9,9,[11.1,11.2]],[10,9,[15.7]],[10,11,[9.3]],[11,4,[7.7]],[11,3,[5.9]],[12,11,[9.3]],[13,4,[8.1]],[13,10,[10.5,10.7]],[14,4,[7.4]],[22,9,[15.3]],[23,9,[15.4]],[25,9,[15.6]]];
const sphk1Curve=[[.05,.229],[1,.265],[2,.3],[3,.327],[4,.347],[5,.359],[5.7,.362],[7,.34],[8,.306],[9,.259],[10,.212],[11,.169],[12,.134],[13,.111],[13.55,.1],[13.6,.1],[15,.1],[17.2,.1]];

const vsig4Runs=[[.1,1,0,3.2],[.1,3,3.2,3.5],[.1,2,3.5,4],[.1,3,4,7],[.1,11,7.2,7.5],[.1,4,7.5,7.8],[.1,11,7.9,9.5],[.1,5,9.5,10],[.1,10,10,11],[.1,9,11,11.3],[.1,8,11.5,12.3],[.1,9,12.3,12.6],[.1,8,12.6,14.9],[.1,9,15,15.9],[.1,8,15.9,17],
[1,1,.15,3],[1,3,3.2,3.9],[1,2,3.9,4.5],[1,3,4.5,6.9],[1,11,7.2,7.5],[1,4,7.5,7.8],[1,11,8,9.6],[1,5,9.7,11],[1,8,11,17],
[2,1,.15,3],[2,3,3.2,6.9],[2,11,7.1,7.5],[2,4,7.5,7.8],[2,4,8,8.3],[2,11,8.4,9.5],[2,5,9.5,10.9],[2,9,10.9,11.3],[2,8,11.3,17],
[3,1,.1,3],[3,3,3.2,6.9],[3,11,7.3,7.5],[3,4,7.5,7.8],[3,4,8,8.5],[3,11,8.6,9.5],[3,5,9.5,10.8],[3,9,10.8,11.3],[3,8,11.3,17.2],
[4,1,.3,1.7],[4,1,2.1,3],[4,3,3.3,6.7],[4,11,7.3,7.5],[4,4,7.5,7.9],[4,4,8.2,8.6],[4,5,9.3,10.6],[4,9,10.6,11.3],[4,8,11.3,17],
[5,1,.5,1.8],[5,1,2.1,2.8],[5,3,3.4,5.9],[5,11,7.2,7.5],[5,4,7.6,7.8],[5,4,8.1,8.6],[5,11,8.7,9.2],[5,5,9.2,10.5],[5,10,10.5,11],[5,8,11.3,17.2],
[6,1,.4,1.4],[6,1,2.6,2.8],[6,3,3.4,4.4],[6,3,4.8,6.9],[6,11,7.1,7.5],[6,11,8.4,9.2],[6,5,9.4,10.3],[6,10,10.4,11.2],[6,8,11.5,13],[6,9,11.9,12.6],[6,8,13.2,14.2],[6,8,14.5,17],
[7,1,.5,1.3],[7,2,4.1,4.4],[7,3,4.7,6.3],[7,11,7.2,7.4],[7,4,8,8.3],[7,5,9.5,10.4],[7,10,10.5,11.1],[7,8,11.6,12.2],[7,9,12.2,12.8],[7,8,12.8,14],[7,8,14.7,15],[7,8,15.4,17],
[8,1,.6,1.2],[8,2,4,4.5],[8,3,5,6.3],[8,11,7.3,7.5],[8,5,9.4,10.6],[8,10,10.6,11.1],[8,9,11.7,12.8],[8,8,12.9,14.2],[8,8,15.4,17],
[9,1,.7,1],[9,2,4,4.2],[9,3,5.1,5.9],[9,5,9.5,10.4],[9,10,10.5,11],[9,9,11.7,12.6],[9,8,12.7,13.2],[9,8,13.9,14.5],[9,8,15.3,17],
[10,5,9.5,10.2],[10,10,10.3,11.2],[10,9,11.8,12.4],[10,8,15.4,16.9],[12,5,9.5,10.4],[12,8,15.3,16.5],[14,5,9.5,10.1],[14,8,15.5,16],[16,5,9.5,10.6],[18,5,9.6,10.5]];
const vsig4Dots=[[6,4,[7.6]],[7,4,[7.7]],[8,4,[7.6]],[9,4,[7.5,8.1]],[9,11,[9]],[10,1,[.95,1.7]],[10,2,[4.1]],[10,3,[5,5.5,6]],[10,11,[8.2]],[10,8,[13.1,13.5,14,14.3]],[11,2,[3.9]],[11,3,[5.6]],[11,4,[7.5,8.5]],[11,9,[11.7]],[11,8,[12,13,13.4]],[12,2,[3.7]],[12,3,[4.9,5.2,5.7]],[12,4,[7.5]],[12,9,[11.2]],[12,8,[12.2,13.2]],[14,3,[5.3]],[14,4,[7.7,8.2]],[14,8,[12,12.7,13.3,14.9]],[15,10,[10.3]],[16,8,[12.1,15]],[16,4,[8.1]],[18,2,[3.7]],[18,3,[5.2]],[18,8,[15.4]],[20,10,[10.6]],[20,8,[12,13,13.4,15.5,15.9]],[20,4,[7.6,8.2]],[22,5,[9.8,10.1,10.4]],[25,8,[13.5,15.5]],[26,9,[11.25]],[30,8,[15.7]],[35,8,[15.8]],[38,10,[10.4]],[43,8,[15.8]],[45,5,[9.2]]];
const vsig4Curve=[[.04,.97],[2,1.02],[4,1.08],[6,1.11],[8,1.07],[10,.98],[11.5,.93],[12.5,.98],[13.5,1.07],[14.5,1.29],[15.5,1.55],[16.5,1.95],[17.2,2.29]];

const stateHues=["#F8766D","#DB8E00","#AEA200","#64B200","#00BD5C","#00C1A7","#00BADE","#00A6FF","#B385FF","#EF67EB","#FF63B6"];
const timeTickLabels=[0,5,10,15];
const exprTicks=[.1,1,10];
const legendStates=[1,2,3,4,5,6,7,8,9,10,11];

/* ---------- Drawing ---------- */
const NS="http://www.w3.org/2000/svg";
function svgEl(tag,attrs,parent){
  const el=document.createElementNS(NS,tag);
  for(const k in attrs){el.setAttribute(k,attrs[k]);}
  parent.appendChild(el);
  return el;
}
function lerpTime(t){
  const a=[0x13,0x2B,0x43],b=[0x56,0xB1,0xF7],f=Math.min(1,t/timeMax);
  return "rgb("+a.map((v,i)=>Math.round(v+(b[i]-v)*f)).join(",")+")";
}
function fmt(v){return (v<0?"\u2212":"")+Math.abs(v);}

function drawAxes(root,box,sx,sy,xVals,yVals,yFmt){
  const ax=svgEl("path",{d:"M"+box.l+" "+box.t+"V"+box.b+(box.noXAxis?"":"H"+box.r),fill:"none",stroke:"#000","stroke-width":3},root);
  
  
  if(!box.noXAxis){
    xVals.forEach(v=>{
      const tk=svgEl("line",{x1:sx(v),x2:sx(v),y1:box.b,y2:box.b+box.tick,stroke:"#333","stroke-width":3},root);
      
      
      const tl=svgEl("text",{x:sx(v),y:box.b+box.xLab,"text-anchor":"middle","font-size":box.font,style:"fill:#4D4D4D"},root);
      
      
      tl.textContent=fmt(v);
    });
  }
  yVals.forEach(v=>{
    const tk=svgEl("line",{x1:box.l-box.tick,x2:box.l,y1:sy(v),y2:sy(v),stroke:"#333","stroke-width":3},root);
    
    
    const tl=svgEl("text",{x:box.l-box.yLab,y:sy(v),"text-anchor":"end","font-size":box.font,style:"fill:#4D4D4D"},root);
    
    
    tl.textContent=yFmt(v);
  });
}

function drawTrajectory(rootId,box,colorFor){
  const root=document.getElementById(rootId);
  const sx=v=>box.x0+v*box.xu, sy=v=>box.y0-v*box.yu;
  drawAxes(root,box,sx,sy,xTicks,yTicks,v=>(v<0?"\u2212":"")+Math.abs(v).toFixed(1));
  [backboneStem,backboneBridge,backboneUp,backboneDown].forEach(seg=>{
    const ln=svgEl("polyline",{points:seg.map(p=>sx(p[0])+","+sy(p[1])).join(" "),fill:"none",stroke:"#000","stroke-width":5.5,"stroke-linejoin":"round"},root);
    
    
  });
  regionCells.forEach((cells,ri)=>{
    cells.forEach(row=>{
      const cluster=row[2]===undefined?regionCluster[ri]:row[2];
      const group=row[3]===undefined?1:row[3];
      const dot=svgEl("circle",{cx:sx(row[0]).toFixed(1),cy:sy(row[1]).toFixed(1),r:7.5,fill:colorFor(ri,cluster,group)},root);
      
      
    });
  });
}
const trajBase={tick:11,font:41.5,xLab:34,yLab:18};
drawTrajectory("panel-a",Object.assign({l:400,r:1818,t:286,b:1510,x0:1215,xu:93.3,y0:1033,yu:100.9},trajBase),(ri)=>lerpTime(regionTime[ri]));
drawTrajectory("panel-b",Object.assign({l:2311,r:3729,t:342,b:1510,x0:3126,xu:93.3,y0:1055.5,yu:96.4},trajBase),(ri,c)=>clusterColors[c]);
drawTrajectory("panel-c",Object.assign({l:411,r:1829,t:2110,b:3165,x0:1226,xu:93.3,y0:2755,yu:86.5},trajBase),(ri)=>stateColors[regionState[ri]-1]);
drawTrajectory("panel-d",Object.assign({l:2321,r:3739,t:1880,b:3165,x0:3136.5,xu:93.3,y0:2665,yu:106},trajBase),(ri,c,g)=>groupColors[g]);

function drawFacet(box,runs,dots,curve){
  const root=document.getElementById("panel-e");
  const sx=v=>box.x0+v*box.xu;
  const sy=v=>box.yOne-Math.log10(v)*box.decade;
  const g=svgEl("g",{},root);
  
  
  drawAxes(g,box,sx,sy,timeTickLabels,exprTicks,v=>v.toFixed(1));
  runs.forEach(r=>{
    const ln=svgEl("line",{x1:sx(r[2]).toFixed(1),x2:sx(r[3]).toFixed(1),y1:sy(r[0]).toFixed(1),y2:sy(r[0]).toFixed(1),stroke:stateHues[r[1]-1],"stroke-width":16,"stroke-linecap":"round"},g);
    
    
  });
  dots.forEach(d=>{
    d[2].forEach(t=>{
      const c=svgEl("circle",{cx:sx(t).toFixed(1),cy:sy(d[0]).toFixed(1),r:8,fill:stateHues[d[1]-1]},g);
      
      
    });
  });
  const pts=curve.map(p=>[sx(p[0]),sy(p[1])]);
  let d="M"+pts[0][0].toFixed(1)+" "+pts[0][1].toFixed(1);
  for(let i=0;i<pts.length-1;i++){
    const p0=pts[Math.max(0,i-1)],p1=pts[i],p2=pts[i+1],p3=pts[Math.min(pts.length-1,i+2)];
    d+="C"+(p1[0]+(p2[0]-p0[0])/6).toFixed(1)+" "+(p1[1]+(p2[1]-p0[1])/6).toFixed(1)+" "+(p2[0]-(p3[0]-p1[0])/6).toFixed(1)+" "+(p2[1]-(p3[1]-p1[1])/6).toFixed(1)+" "+p2[0].toFixed(1)+" "+p2[1].toFixed(1);
  }
  const cv=svgEl("path",{d:d,fill:"none",stroke:"#000","stroke-width":7},g);
  
  
}
const facetBase={tick:15,font:49,xLab:52,yLab:29};
drawFacet(Object.assign({l:689,r:1495,t:3520,b:4127,x0:725,xu:42.5,yOne:3866.5,decade:231,noXAxis:true},facetBase),fcgr2bRuns,fcgr2bDots,fcgr2bCurve);
drawFacet(Object.assign({l:1658,r:2464,t:3520,b:4127,x0:1694,xu:42.6,yOne:3896,decade:203.5},facetBase),fpr2Runs,fpr2Dots,fpr2Curve);
drawFacet(Object.assign({l:2627,r:3433,t:3520,b:4127,x0:2663,xu:42.6,yOne:3868.6,decade:229.5},facetBase),sphk1Runs,sphk1Dots,sphk1Curve);
drawFacet(Object.assign({l:689,r:1495,t:4261,b:4868,x0:725,xu:42.5,yOne:4633,decade:208.5},facetBase),vsig4Runs,vsig4Dots,vsig4Curve);

const panelE=document.getElementById("panel-e");
legendStates.forEach((s,i)=>{
  const cy=3740+i*100;
  const key=svgEl("circle",{cx:3579,cy:cy,r:9,fill:stateHues[s-1]},panelE);
  
  
  const lab=svgEl("text",{x:3660,y:cy,"font-size":51},panelE);
  
  
  lab.textContent=String(s);
});
</script>
</body>
</html>
